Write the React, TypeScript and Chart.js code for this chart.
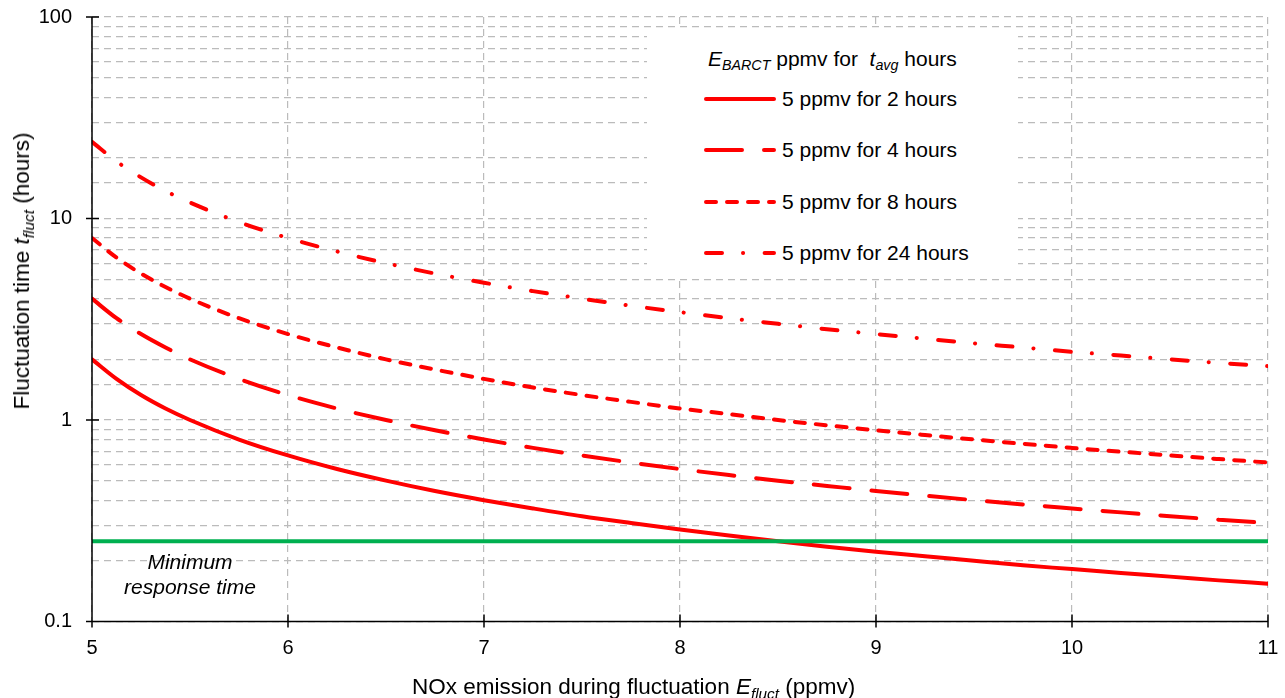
import React, { useEffect, useRef } from "react";
import { Chart, registerables } from "chart.js";

Chart.register(...registerables);

// NOx emission during fluctuation (ppmv)
const xValues = [5, 5.125, 5.25, 5.375, 5.5, 5.75, 6, 6.25, 6.5, 6.75, 7, 7.25, 7.5, 7.75, 8, 8.25, 8.5, 8.75, 9, 9.25, 9.5, 9.75, 10, 10.25, 10.5, 10.75, 11];

// Fluctuation time (hours)
const series2h = [2.0, 1.6, 1.33, 1.14, 1.0, 0.8, 0.667, 0.571, 0.5, 0.444, 0.4, 0.364, 0.333, 0.308, 0.286, 0.267, 0.25, 0.235, 0.222, 0.211, 0.2, 0.19, 0.182, 0.174, 0.167, 0.16, 0.154];
const series4h = [4.0, 3.2, 2.67, 2.29, 2.0, 1.6, 1.33, 1.14, 1.0, 0.889, 0.8, 0.727, 0.667, 0.615, 0.571, 0.533, 0.5, 0.471, 0.444, 0.421, 0.4, 0.381, 0.364, 0.348, 0.333, 0.32, 0.308];
const series8h = [8.0, 6.4, 5.33, 4.57, 4.0, 3.2, 2.67, 2.29, 2.0, 1.78, 1.6, 1.45, 1.33, 1.23, 1.14, 1.07, 1.0, 0.941, 0.889, 0.842, 0.8, 0.762, 0.727, 0.696, 0.667, 0.64, 0.615];
const series24h = [24, 19.2, 16.0, 13.7, 12.0, 9.6, 8.0, 6.86, 6.0, 5.33, 4.8, 4.36, 4.0, 3.69, 3.43, 3.2, 3.0, 2.82, 2.67, 2.53, 2.4, 2.29, 2.18, 2.09, 2.0, 1.92, 1.85];

const minResponseX = [5, 11];
const minResponseY = [0.25, 0.25];

const legendLabels = ["5 ppmv for 2 hours", "5 ppmv for 4 hours", "5 ppmv for 8 hours", "5 ppmv for 24 hours"];
const yMajorTicks = [0.1, 1, 10, 100];
const xTicks = [5, 6, 7, 8, 9, 10, 11];

const RED = "#FF0000";
const GREEN = "#00B050";
const FONT = "'Liberation Sans', Arial, sans-serif";
const dashes: number[][] = [[], [36, 22], [10, 11], [16, 21, 0.1, 21.5]];

const toPts = (ys: number[], xs: number[]) => ys.map((y, i) => ({ x: xs[i], y }));

const axesPlugin = {
  id: "axesPlugin",
  afterDatasetsDraw(chart: any) {
    const { ctx, chartArea } = chart;
    const xs = chart.scales.x;
    const ys = chart.scales.y;
    ctx.save();
    ctx.strokeStyle = "#000";
    ctx.lineWidth = 1.5;
    ctx.setLineDash([]);
    ctx.beginPath();
    ctx.moveTo(chartArea.left, chartArea.top);
    ctx.lineTo(chartArea.left, chartArea.bottom);
    ctx.moveTo(chartArea.left - 6, chartArea.bottom);
    ctx.lineTo(chartArea.right, chartArea.bottom);
    yMajorTicks.forEach((v) => {
      const p = ys.getPixelForValue(v);
      ctx.moveTo(chartArea.left - 6, p);
      ctx.lineTo(chartArea.left + 7, p);
    });
    xTicks.forEach((v) => {
      const p = xs.getPixelForValue(v);
      ctx.moveTo(p, chartArea.bottom - 7);
      ctx.lineTo(p, chartArea.bottom + 6);
    });
    ctx.stroke();
    ctx.restore();
  },
};

function ChartView() {
  const ref = useRef<HTMLCanvasElement | null>(null);
  useEffect(() => {
    if (!ref.current) return;
    const red = (label: string, data: number[], dash: number[]) => ({
      label,
      data: toPts(data, xValues),
      borderColor: RED,
      backgroundColor: RED,
      borderWidth: 4,
      borderDash: dash,
      borderCapStyle: "round",
      pointRadius: 0,
      cubicInterpolationMode: "monotone",
      fill: false,
    });
    const chart = new Chart(ref.current, {
      type: "line",
      data: {
        datasets: [
          {
            label: "Minimum response time",
            data: toPts(minResponseY, minResponseX),
            borderColor: GREEN,
            backgroundColor: GREEN,
            borderWidth: 4,
            pointRadius: 0,
            fill: false,
          },
          red(legendLabels[0], series2h, dashes[0]),
          red(legendLabels[1], series4h, dashes[1]),
          red(legendLabels[2], series8h, dashes[2]),
          red(legendLabels[3], series24h, dashes[3]),
        ] as any,
      },
      options: {
        animation: false,
        responsive: false,
        maintainAspectRatio: false,
        layout: { padding: { top: 17, right: 17, left: 0, bottom: 0 } },
        plugins: { legend: { display: false }, tooltip: { enabled: false } },
        scales: {
          x: {
            type: "linear",
            min: 5,
            max: 11,
            afterFit: (s: any) => {
              s.height = 76.5;
              s.paddingLeft = 0;
              s.paddingRight = 0;
              s.paddingTop = 0;
              s.paddingBottom = 0;
            },
            ticks: {
              stepSize: 1,
              color: "#000",
              padding: 15,
              font: { family: FONT, size: 20 },
              maxRotation: 0,
            },
            grid: { color: "#BBBBBB", lineWidth: 1.2, drawTicks: false },
            border: { display: false, dash: [7, 5] },
          },
          y: {
            type: "logarithmic",
            min: 0.1,
            max: 100,
            afterFit: (s: any) => {
              s.width = 92;
              s.paddingLeft = 0;
              s.paddingRight = 0;
              s.paddingTop = 0;
              s.paddingBottom = 0;
            },
            ticks: {
              autoSkip: false,
              color: "#000",
              padding: 20,
              font: { family: FONT, size: 20 },
              callback: (v: any) => {
                const l = Math.log10(Number(v));
                return Math.abs(l - Math.round(l)) < 1e-6 ? String(Number(v)) : "";
              },
            },
            grid: { color: "#BBBBBB", lineWidth: 1.2, drawTicks: false },
            border: { display: false, dash: [7, 5] },
          },
        },
      } as any,
      plugins: [axesPlugin],
    });
    return () => chart.destroy();
  }, []);
  return <canvas ref={ref} width={1285} height={698} style={{ position: "absolute", left: 0, top: 0, width: 1285, height: 698 }} />;
}

const subStyle: React.CSSProperties = { fontSize: "0.68em", verticalAlign: "-0.3em", lineHeight: 0 };

function LegendSample({ dash }: { dash: number[] }) {
  return (
    <svg width={72} height={12} style={{ position: "absolute", left: 0, top: -6 }}>
      <line x1={2} y1={6} x2={70} y2={6} stroke={RED} strokeWidth={4} strokeLinecap="round" strokeDasharray={dash.length ? dash.join(" ") : undefined} />
    </svg>
  );
}

export default function App() {
  const itemY = [99, 150, 202, 253];
  return (
    <div style={{ position: "fixed", left: 0, top: 0, width: 1285, height: 698, background: "#fff", fontFamily: FONT, color: "#000", overflow: "hidden" }}>
      <ChartView />
      {/* legend box */}
      <div style={{ position: "absolute", left: 647, top: 28, width: 371, height: 249, background: "#fff" }} />
      <div style={{ position: "absolute", left: 708, top: 59, transform: "translateY(-50%)", fontSize: 21, whiteSpace: "nowrap", lineHeight: "24px" }}>
        <i>E</i>
        <i style={subStyle}>BARCT</i> ppmv for&nbsp;&nbsp;<i>t</i>
        <i style={subStyle}>avg</i> hours
      </div>
      {legendLabels.map((lab, i) => (
        <div key={lab} style={{ position: "absolute", left: 704, top: itemY[i], height: 0 }}>
          <LegendSample dash={dashes[i]} />
          <div style={{ position: "absolute", left: 78, top: 0, transform: "translateY(-50%)", fontSize: 21, whiteSpace: "nowrap", lineHeight: "24px" }}>{lab}</div>
        </div>
      ))}
      {/* minimum response time annotation */}
      <div style={{ position: "absolute", left: 90, top: 549, width: 200, textAlign: "center", fontStyle: "italic", fontSize: 21, lineHeight: "25px" }}>
        Minimum
        <br />
        response time
      </div>
      {/* x axis title */}
      <div style={{ position: "absolute", left: 412, top: 687, transform: "translateY(-50%)", fontSize: 22.5, whiteSpace: "nowrap", lineHeight: "24px" }}>
        NOx emission during fluctuation <i>E</i>
        <i style={subStyle}>fluct</i> (ppmv)
      </div>
      {/* y axis title */}
      <div style={{ position: "absolute", left: 22, top: 271, transform: "translate(-50%, -50%) rotate(-90deg)", fontSize: 22.5, whiteSpace: "nowrap", lineHeight: "24px" }}>
        Fluctuation time <i>t</i>
        <i style={subStyle}>fluct</i> (hours)
      </div>
    </div>
  );
}
